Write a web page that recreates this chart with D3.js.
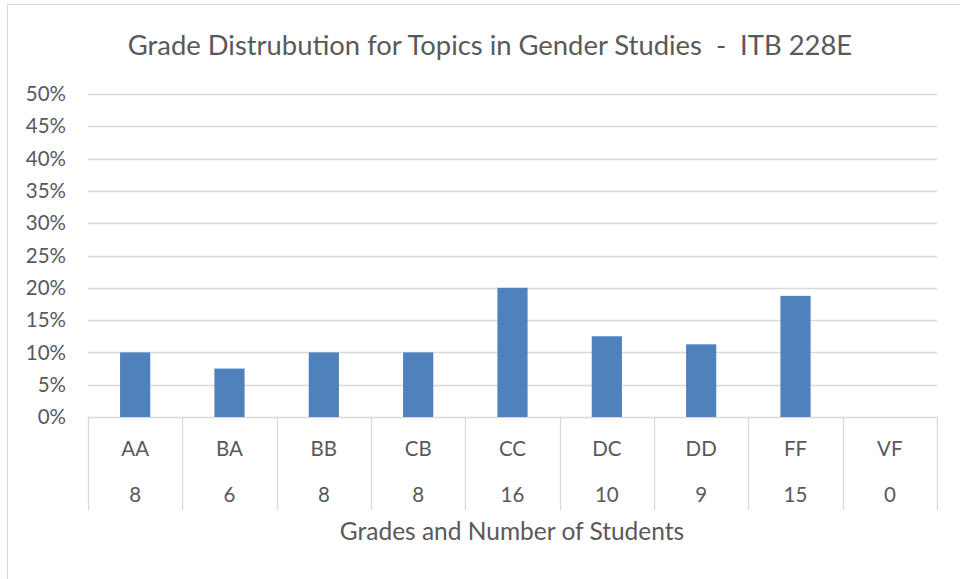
<!DOCTYPE html>
<html><head><meta charset="utf-8">
<script src="https://cdn.jsdelivr.net/npm/d3@7"></script>
<style>body{margin:0;background:#fff}svg{display:block}text{font-family:Lato,"Open Sans",sans-serif;fill:#595959;white-space:pre}</style>
</head><body><svg id="c" width="960" height="579"></svg>
<script>
const grades = ["AA","BA","BB","CB","CC","DC","DD","FF","VF"];
const counts = [8,6,8,8,16,10,9,15,0];
const percents = [0.10,0.075,0.10,0.10,0.20,0.125,0.1125,0.1875,0];
const yTicks = [0,0.05,0.10,0.15,0.20,0.25,0.30,0.35,0.40,0.45,0.50];
const title = "Grade Distrubution for Topics in Gender Studies  -  ITB 228E";
const xTitle = "Grades and Number of Students";

const svg = d3.select("#c");
svg.append("rect").attr("x",7.5).attr("y",4.5).attr("width",980).attr("height",600)
  .attr("fill","#fff").attr("stroke","#d9d9d9");
const L=88,R=937,T=94,B=417;
const x = d3.scaleBand().domain(grades).range([L,R]).paddingInner(0.68).paddingOuter(0.34);
const xb = d3.scaleBand().domain(grades).range([L,R]);
const y = d3.scaleLinear().domain([0,0.5]).range([B,T]);

svg.append("g").selectAll("line").data(yTicks).join("line")
  .attr("x1",L).attr("x2",R).attr("y1",d=>Math.round(y(d))+0.5).attr("y2",d=>Math.round(y(d))+0.5)
  .attr("stroke","#d9d9d9").attr("stroke-width",1.3);
svg.append("g").selectAll("text").data(yTicks).join("text")
  .attr("x",66).attr("y",d=>y(d)).attr("dy","0.35em").attr("text-anchor","end")
  .attr("font-size",20.5).text(d3.format(".0%"));

svg.append("g").selectAll("rect").data(grades).join("rect")
  .attr("x",d=>x(d)).attr("width",x.bandwidth())
  .attr("y",(d,i)=>y(percents[i])).attr("height",(d,i)=>B-y(percents[i]))
  .attr("fill","#4f81bd");

const bounds = grades.map(g=>xb(g)).concat([R]);
svg.append("g").selectAll("line").data(bounds).join("line")
  .attr("x1",d=>Math.round(d)+0.5).attr("x2",d=>Math.round(d)+0.5).attr("y1",B).attr("y2",510)
  .attr("stroke","#d9d9d9").attr("stroke-width",1.3);
svg.append("g").selectAll("text").data(grades).join("text")
  .attr("x",d=>xb(d)+xb.bandwidth()/2).attr("y",449).attr("dy","0.35em").attr("text-anchor","middle")
  .attr("font-size",20.5).text(d=>d);
svg.append("g").selectAll("text").data(grades).join("text")
  .attr("x",d=>xb(d)+xb.bandwidth()/2).attr("y",495).attr("dy","0.35em").attr("text-anchor","middle")
  .attr("font-size",20.5).text((d,i)=>counts[i]);

svg.append("text").attr("x",490).attr("y",45).attr("dy","0.35em").attr("text-anchor","middle")
  .attr("font-size",27.4).text(title);
svg.append("text").attr("x",512).attr("y",531).attr("dy","0.35em").attr("text-anchor","middle")
  .attr("font-size",24.5).text(xTitle);
</script></body></html>
